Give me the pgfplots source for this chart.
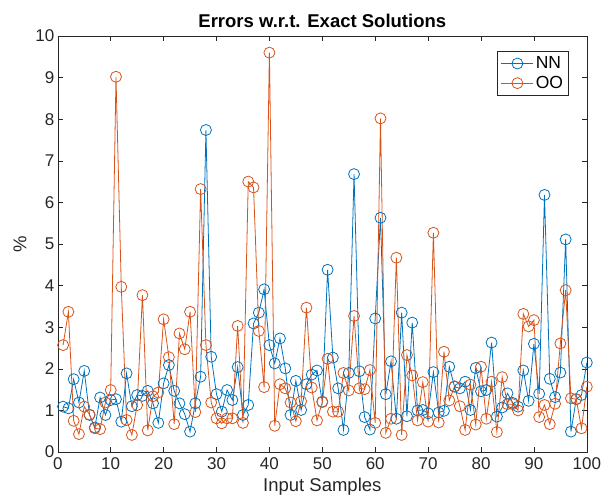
\documentclass[border=0pt]{standalone}
\usepackage{fontspec}
\setmainfont{Liberation Sans}
\usepackage{pgfplots}
\pgfplotsset{compat=1.18}
\definecolor{nnblue}{RGB}{0,114,189}
\definecolor{oored}{RGB}{217,83,25}
\definecolor{axgray}{RGB}{38,38,38}

\begin{document}
\begin{tikzpicture}[x=1pt,y=1pt]
\begin{axis}[
    at={(0,0)}, anchor=south west,
    width=529pt, height=416pt, scale only axis,
    xmin=0, xmax=100, ymin=0, ymax=10,
    xtick={0,10,...,100}, ytick={0,1,...,10},
    tick align=inside, tick pos=both, major tick length=5pt,
    axis line style={axgray, line width=0.6pt},
    tick style={axgray, line width=0.6pt},
    ticklabel style={font=\fontsize{17}{19}\selectfont, text=axgray},
    xticklabel style={yshift=-2pt},
    /pgf/number format/assume math mode=true,
    title={Errors w.r.t. Exact Solutions},
    title style={font=\bfseries\fontsize{18.5}{20}\selectfont, text=black, yshift=-1pt},
    xlabel={Input Samples}, ylabel={\%},
    label style={font=\fontsize{18.5}{20}\selectfont, text=axgray},
    xlabel style={yshift=-4pt, inner sep=1pt},
    ylabel style={yshift=2pt},
    legend style={at={(0.966,0.964)}, anchor=north east, draw=axgray,
        line width=0.6pt, font=\fontsize{17.5}{19}\selectfont,
        row sep=2pt, inner sep=3.5pt},
    legend cell align=left,
    legend image code/.code={
        \draw[mark repeat=2, mark phase=2] plot coordinates {(0pt,0pt) (16pt,0pt) (32pt,0pt)};
    },
]
\addplot[color=nnblue, line width=0.8pt, mark=o, mark size=5.5pt] coordinates {
(1,1.09) (2,1.05) (3,1.75) (4,1.19) (5,1.95) (6,0.89) (7,0.59) (8,1.31) (9,0.89) (10,1.25)
(11,1.27) (12,0.73) (13,1.89) (14,1.10) (15,1.37) (16,1.35) (17,1.47) (18,1.17) (19,0.70) (20,1.65)
(21,2.09) (22,1.47) (23,1.17) (24,0.91) (25,0.49) (26,1.17) (27,1.81) (28,7.74) (29,2.29) (30,1.39)
(31,0.97) (32,1.49) (33,1.25) (34,2.04) (35,0.89) (36,1.13) (37,3.09) (38,3.35) (39,3.91) (40,2.57)
(41,2.13) (42,2.73) (43,2.01) (44,0.89) (45,1.71) (46,1.01) (47,1.63) (48,1.86) (49,1.96) (50,1.21)
(51,4.38) (52,2.27) (53,1.53) (54,0.53) (55,1.90) (56,6.68) (57,1.94) (58,0.84) (59,0.54) (60,3.21)
(61,5.63) (62,1.39) (63,2.18) (64,0.80) (65,3.35) (66,0.86) (67,3.11) (68,1.00) (69,1.01) (70,0.93)
(71,1.92) (72,0.95) (73,0.99) (74,2.05) (75,1.57) (76,1.53) (77,1.69) (78,1.01) (79,2.02) (80,1.46)
(81,1.49) (82,2.63) (83,0.85) (84,1.07) (85,1.41) (86,1.18) (87,1.09) (88,1.96) (89,1.23) (90,2.60)
(91,1.40) (92,6.18) (93,1.76) (94,1.32) (95,1.91) (96,5.11) (97,0.49) (98,1.27) (99,1.37) (100,2.15)
};
\addplot[color=oored, line width=0.8pt, mark=o, mark size=5.5pt] coordinates {
(1,2.57) (2,3.37) (3,0.75) (4,0.43) (5,1.09) (6,0.90) (7,0.57) (8,0.55) (9,1.19) (10,1.49)
(11,9.02) (12,3.97) (13,0.77) (14,0.41) (15,1.13) (16,3.77) (17,0.52) (18,1.34) (19,1.43) (20,3.19)
(21,2.28) (22,0.67) (23,2.85) (24,2.47) (25,3.37) (26,0.96) (27,6.32) (28,2.57) (29,1.19) (30,0.81)
(31,0.69) (32,0.81) (33,0.81) (34,3.03) (35,0.70) (36,6.50) (37,6.36) (38,2.91) (39,1.56) (40,9.60)
(41,0.63) (42,1.63) (43,1.53) (44,1.19) (45,0.74) (46,1.22) (47,3.47) (48,1.55) (49,0.76) (50,1.20)
(51,2.24) (52,0.97) (53,0.97) (54,1.90) (55,1.48) (56,3.27) (57,1.53) (58,1.51) (59,1.97) (60,0.70)
(61,8.02) (62,0.46) (63,0.80) (64,4.67) (65,0.41) (66,2.33) (67,1.84) (68,0.76) (69,1.68) (70,0.73)
(71,5.27) (72,0.71) (73,2.41) (74,1.24) (75,1.58) (76,1.10) (77,0.53) (78,1.62) (79,0.66) (80,2.05)
(81,0.80) (82,1.69) (83,0.48) (84,1.80) (85,1.15) (86,1.15) (87,1.00) (88,3.32) (89,3.02) (90,3.17)
(91,0.84) (92,1.13) (93,0.67) (94,1.16) (95,2.61) (96,3.89) (97,1.29) (98,1.27) (99,0.57) (100,1.57)
};
\legend{NN, OO}
\end{axis}
% fixed frame matching the reference canvas
\pgfresetboundingbox
\path[use as bounding box] (-57.8,-49) rectangle (543.2,452);
\end{tikzpicture}
\end{document}
